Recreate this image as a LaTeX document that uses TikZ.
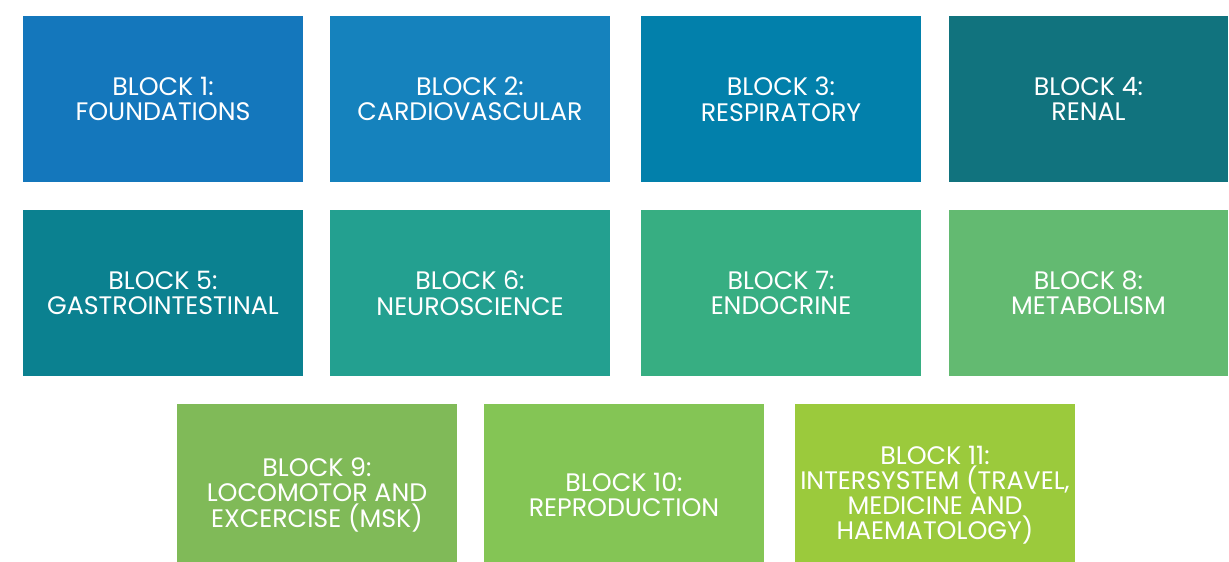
\documentclass[tikz,border=0pt]{standalone}
\usepackage{fontspec}
\setmainfont{Poppins}
\usepackage{tikz}
\usetikzlibrary{positioning}
\definecolor{blk1}{HTML}{1477BC}
\definecolor{blk2}{HTML}{1582BD}
\definecolor{blk3}{HTML}{0280AB}
\definecolor{blk4}{HTML}{11737E}
\definecolor{blk5}{HTML}{0B8190}
\definecolor{blk6}{HTML}{23A090}
\definecolor{blk7}{HTML}{37AE82}
\definecolor{blk8}{HTML}{63BA71}
\definecolor{blk9}{HTML}{80BA58}
\definecolor{blk10}{HTML}{84C555}
\definecolor{blk11}{HTML}{9BCA3C}
\tikzstyle{block}=[rectangle,inner sep=0pt,minimum width=6.975cm,minimum height=4.15cm,text=white,align=center,font=\fontsize{18}{17.8}\selectfont]
\tikzstyle{lowblock}=[block,minimum height=4.55cm]

\begin{document}
\begin{tikzpicture}[x=0.025cm, y=-0.025cm]

  \path[use as bounding box, clip] (0,0) rectangle (1229,561);

  % top two rows
  \foreach \x/\y/\name/\col/\label in {163/99.25/b1/blk1/{BLOCK 1:\\FOUNDATIONS},
      470/99.25/b2/blk2/{BLOCK 2:\\CARDIOVASCULAR},
      781/99.25/b3/blk3/{BLOCK 3:\\RESPIRATORY},
      1088.5/99.25/b4/blk4/{BLOCK 4:\\RENAL},
      163/293.25/b5/blk5/{BLOCK 5:\\GASTROINTESTINAL},
      470/293.25/b6/blk6/{BLOCK 6:\\NEUROSCIENCE},
      781/293.25/b7/blk7/{BLOCK 7:\\ENDOCRINE},
      1088.5/293.25/b8/blk8/{BLOCK 8:\\METABOLISM}}
         \node[block, fill=\col] (\name) at (\x,\y) {\label};

  % bottom row, cut by the page edge
  \foreach \x/\y/\name/\col/\label in {317/495/b9/blk9/{BLOCK 9:\\LOCOMOTOR AND\\EXCERCISE (MSK)},
      624/495/b10/blk10/{BLOCK 10:\\REPRODUCTION},
      935/495/b11/blk11/{BLOCK 11:\\INTERSYSTEM (TRAVEL,\\MEDICINE AND\\HAEMATOLOGY)}}
         \node[lowblock, fill=\col] (\name) at (\x,\y) {\label};

\end{tikzpicture}
\end{document}
